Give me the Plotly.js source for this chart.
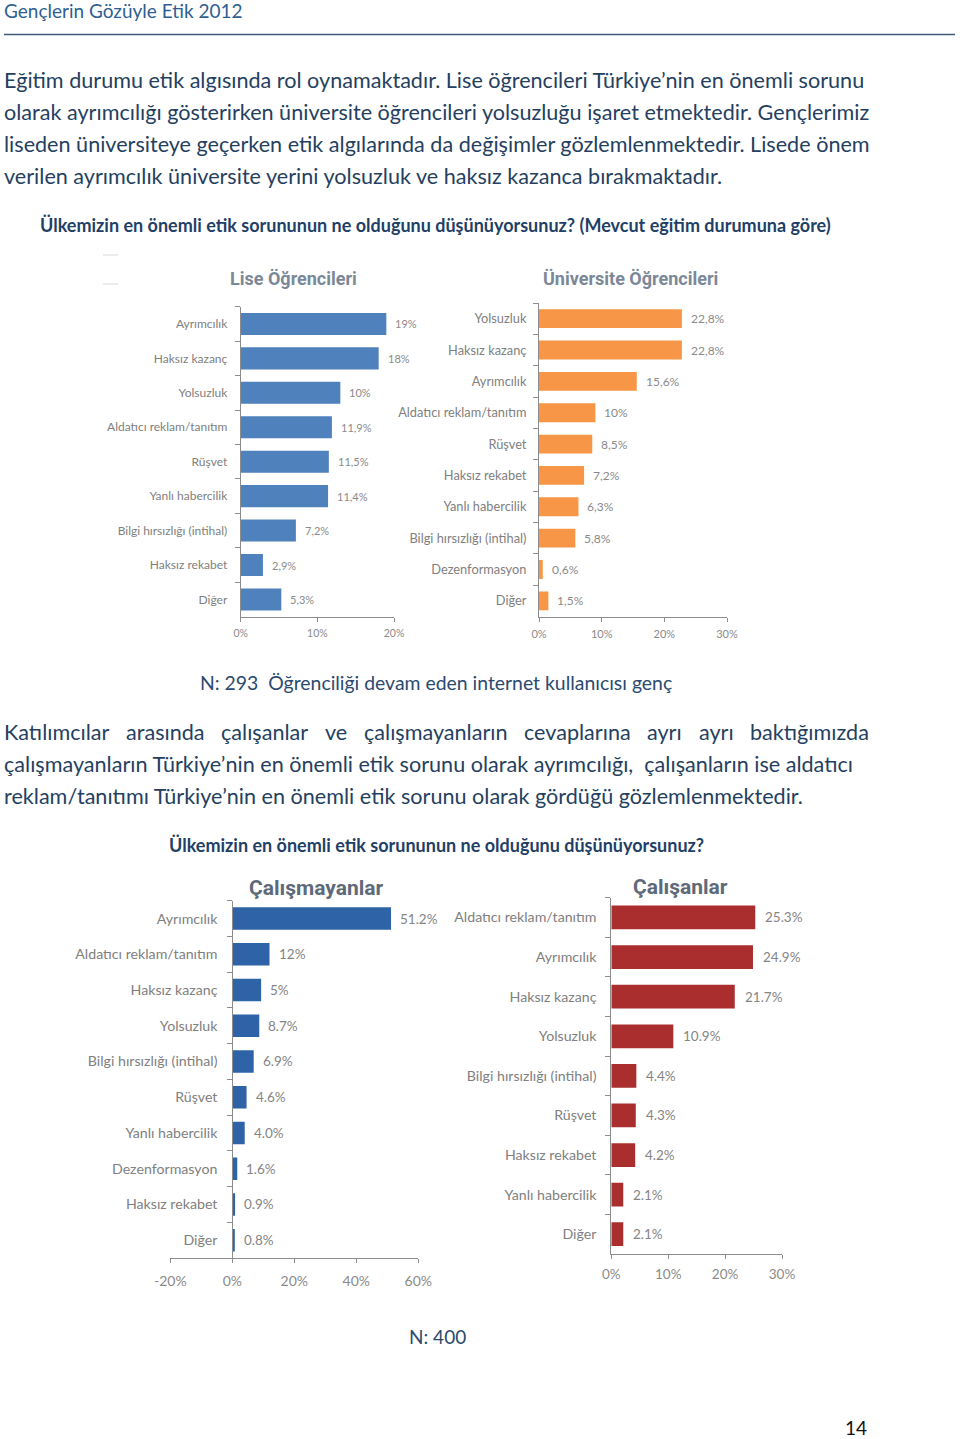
<!DOCTYPE html>
<html><head><meta charset="utf-8">
<script src="https://cdn.plot.ly/plotly-3.0.1.min.js"></script>
<style>html,body{margin:0;padding:0;background:#fff;} #chart{width:960px;height:1439px;}</style>
</head><body><div id="chart"></div>
<script>
// ---------------- DATA ----------------
const liseCategories = ["Ayrımcılık","Haksız kazanç","Yolsuzluk","Aldatıcı reklam/tanıtım","Rüşvet","Yanlı habercilik","Bilgi hırsızlığı (intihal)","Haksız rekabet","Diğer"];
const liseValues = [19, 18, 13, 11.9, 11.5, 11.4, 7.2, 2.9, 5.3];
const liseLabels = ["19%","18%","10%","11,9%","11,5%","11,4%","7,2%","2,9%","5,3%"];

const uniCategories = ["Yolsuzluk","Haksız kazanç","Ayrımcılık","Aldatıcı reklam/tanıtım","Rüşvet","Haksız rekabet","Yanlı habercilik","Bilgi hırsızlığı (intihal)","Dezenformasyon","Diğer"];
const uniValues = [22.8, 22.8, 15.6, 9.0, 8.5, 7.2, 6.3, 5.8, 0.6, 1.5];
const uniLabels = ["22,8%","22,8%","15,6%","10%","8,5%","7,2%","6,3%","5,8%","0,6%","1,5%"];

const calismayanCategories = ["Ayrımcılık","Aldatıcı reklam/tanıtım","Haksız kazanç","Yolsuzluk","Bilgi hırsızlığı (intihal)","Rüşvet","Yanlı habercilik","Dezenformasyon","Haksız rekabet","Diğer"];
const calismayanValues = [51.2, 12, 9.3, 8.7, 6.9, 4.6, 4.0, 1.6, 0.9, 0.8];
const calismayanLabels = ["51.2%","12%","5%","8.7%","6.9%","4.6%","4.0%","1.6%","0.9%","0.8%"];

const calisanCategories = ["Aldatıcı reklam/tanıtım","Ayrımcılık","Haksız kazanç","Yolsuzluk","Bilgi hırsızlığı (intihal)","Rüşvet","Haksız rekabet","Yanlı habercilik","Diğer"];
const calisanValues = [25.3, 24.9, 21.7, 10.9, 4.4, 4.3, 4.2, 2.1, 2.1];
const calisanLabels = ["25.3%","24.9%","21.7%","10.9%","4.4%","4.3%","4.2%","2.1%","2.1%"];

const ticks1 = [0, 10, 20];            const tickText1 = ["0%","10%","20%"];
const ticks2 = [0, 10, 20, 30];        const tickText2 = ["0%","10%","20%","30%"];
const ticks3 = [-20, 0, 20, 40, 60];   const tickText3 = ["-20%","0%","20%","40%","60%"];
const ticks4 = [0, 10, 20, 30];        const tickText4 = ["0%","10%","20%","30%"];

const headerText = "Gençlerin Gözüyle Etik 2012";
const para1 = [
  "Eğitim durumu etik algısında rol oynamaktadır. Lise öğrencileri Türkiye’nin en önemli sorunu",
  "olarak ayrımcılığı gösterirken üniversite öğrencileri yolsuzluğu işaret etmektedir. Gençlerimiz",
  "liseden üniversiteye geçerken etik algılarında da değişimler gözlemlenmektedir. Lisede önem",
  "verilen ayrımcılık üniversite yerini yolsuzluk ve haksız kazanca bırakmaktadır."
];
const question1 = "Ülkemizin en önemli etik sorununun ne olduğunu düşünüyorsunuz? (Mevcut eğitim durumuna göre)";
const titleLise = "Lise Öğrencileri";
const titleUni = "Üniversite Öğrencileri";
const note1 = "N: 293&nbsp;&nbsp;Öğrenciliği devam eden internet kullanıcısı genç";
const para2Justified = "Katılımcılar arasında çalışanlar ve çalışmayanların cevaplarına ayrı ayrı baktığımızda";
const para2 = [
  "çalışmayanların Türkiye’nin en önemli etik sorunu olarak ayrımcılığı,&nbsp; çalışanların ise aldatıcı",
  "reklam/tanıtımı Türkiye’nin en önemli etik sorunu olarak gördüğü gözlemlenmektedir."
];
const question2 = "Ülkemizin en önemli etik sorununun ne olduğunu düşünüyorsunuz?";
const titleCalismayan = "Çalışmayanlar";
const titleCalisan = "Çalışanlar";
const note2 = "N: 400";
const pageNo = "14";

// ---------------- LAYOUT HELPERS ----------------
const W = 960, H = 1439;
const fx = p => p / W;
const fy = p => 1 - p / H;
const BODY = "Lato, 'Open Sans', sans-serif";
const TITLEF = "'Liberation Sans Narrow', 'Arial Narrow', Roboto, sans-serif";
const AX = '#8c8c8c';
const BODYSIZE = 21.6;

function xAxis(dom, rng, tv, tt, anchor, fs, standoff) {
  return {domain:[fx(dom[0]), fx(dom[1])], range:rng, anchor:anchor, tickmode:'array', tickvals:tv, ticktext:tt,
    showline:true, linecolor:AX, linewidth:1, ticks:'outside', ticklen:4, tickcolor:AX,
    showgrid:false, zeroline:false, tickfont:{family:BODY, size:fs, color:'#8a8a8a'}, ticklabelstandoff:standoff, fixedrange:true};
}
function yAxis(dom, anchor, fs, standoff, pos) {
  const a = {domain:[fy(dom[0]), fy(dom[1])], type:'category', autorange:'reversed', anchor:anchor,
    showline:true, linecolor:AX, linewidth:1, ticks:'outside', tickson:'boundaries', ticklen:5, tickcolor:AX,
    showgrid:false, zeroline:false, tickfont:{family:BODY, size:fs, color:'#808080'}, ticklabelstandoff:standoff, fixedrange:true};
  if (pos !== undefined) { a.anchor = 'free'; a.position = fx(pos); }
  return a;
}
function barTrace(cats, vals, color, xa, ya, w) {
  return {type:'bar', orientation:'h', x:vals, y:cats, xaxis:xa, yaxis:ya, width:w,
    marker:{color:color}, hoverinfo:'skip', showlegend:false};
}
function valueLabels(vals, labels, xr, yr, fs, color, shift) {
  return vals.map((v, i) => ({xref:xr, yref:yr, x:v, y:i, text:labels[i], showarrow:false,
    xanchor:'left', yanchor:'middle', xshift:shift, font:{family:BODY, size:fs, color:color}}));
}
function textAt(px, py, text, size, color, anchor, bold, family) {
  return {xref:'paper', yref:'paper', x:fx(px), y:fy(py), text: bold ? '<b>'+text+'</b>' : text,
    showarrow:false, xanchor:anchor||'left', yanchor:'middle', borderpad:0,
    font:{family:family||BODY, size:size, color:color}};
}

const traces = [
  barTrace(liseCategories, liseValues, '#4f81bd', 'x', 'y', 0.64),
  barTrace(uniCategories, uniValues, '#f79646', 'x2', 'y2', 0.6),
  barTrace(calismayanCategories, calismayanValues, '#2e63a8', 'x3', 'y3', 0.63),
  barTrace(calisanCategories, calisanValues, '#aa2e2e', 'x4', 'y4', 0.6)
];

const BODYC = '#253f5f';
let annotations = [];
annotations.push(textAt(3, 11, headerText, 19, '#2f5f91', 'left'));
para1.forEach((t, i) => annotations.push(textAt(3, 80 + 32*i, t, BODYSIZE, BODYC, 'left')));
annotations.push(textAt(39, 225, question1, 18, '#1f3f66', 'left', true));
annotations.push(textAt(293, 278, titleLise, 18, '#7b8898', 'center', true, TITLEF));
annotations.push(textAt(630, 278, titleUni, 18, '#7b8898', 'center', true, TITLEF));
annotations.push(textAt(199, 682, note1, 19.4, '#2b4a6e', 'left'));

// justified first line of paragraph 2 (spacing computed from measured word widths)
(function(){
  const words = para2Justified.split(' ');
  const ctx = document.createElement('canvas').getContext('2d');
  ctx.font = BODYSIZE + 'px Lato';
  const widths = words.map(w => ctx.measureText(w).width);
  const left = 3, right = 868;
  const total = widths.reduce((a, b) => a + b, 0);
  const gap = (right - left - total) / (words.length - 1);
  let x = left;
  words.forEach((w, i) => { annotations.push(textAt(x, 732, w, BODYSIZE, BODYC, 'left')); x += widths[i] + gap; });
})();
para2.forEach((t, i) => annotations.push(textAt(3, 764 + 32*i, t, BODYSIZE, BODYC, 'left')));
annotations.push(textAt(436, 845, question2, 18, '#1f3f66', 'center', true));
annotations.push(textAt(316, 888, titleCalismayan, 21, '#5d6a79', 'center', true, TITLEF));
annotations.push(textAt(680, 887, titleCalisan, 21, '#5d6a79', 'center', true, TITLEF));
annotations.push(textAt(408, 1336, note2, 19, '#2b4a6e', 'left'));
annotations.push(textAt(868, 1427, pageNo, 19, '#111111', 'right'));

annotations = annotations
  .concat(valueLabels(liseValues, liseLabels, 'x', 'y', 11, '#8a8a8a', 7))
  .concat(valueLabels(uniValues, uniLabels, 'x2', 'y2', 12, '#8a8a8a', 7))
  .concat(valueLabels(calismayanValues, calismayanLabels, 'x3', 'y3', 13.5, '#858585', 7))
  .concat(valueLabels(calisanValues, calisanLabels, 'x4', 'y4', 13.5, '#858585', 8));

const shapes = [
  {type:'line', xref:'paper', yref:'paper', x0:fx(4), x1:fx(955), y0:fy(34.5), y1:fy(34.5), line:{color:'#3d5a7c', width:1.5}},
  {type:'line', xref:'paper', yref:'paper', x0:fx(103), x1:fx(118), y0:fy(255), y1:fy(255), line:{color:'#d9d9d9', width:1}},
  {type:'line', xref:'paper', yref:'paper', x0:fx(103), x1:fx(118), y0:fy(284), y1:fy(284), line:{color:'#d9d9d9', width:1}}
];

const layout = {
  width: W, height: H, margin:{l:0, r:0, t:0, b:0}, paper_bgcolor:'#ffffff', plot_bgcolor:'rgba(0,0,0,0)',
  showlegend:false,
  xaxis:  xAxis([240.7, 394], [0, 20], ticks1, tickText1, 'y', 10.5, 3),
  yaxis:  yAxis([616.7, 306.7], 'x', 12, 10),
  xaxis2: xAxis([539, 727], [0, 30], ticks2, tickText2, 'y2', 11, 3),
  yaxis2: yAxis([616.5, 303], 'x2', 12.8, 9),
  xaxis3: xAxis([170.3, 418.3], [-20, 60], ticks3, tickText3, 'y3', 14, 6),
  yaxis3: yAxis([1258, 900.7], 'x3', 14.2, 12, 232.3),
  xaxis4: xAxis([611.3, 782], [0, 30], ticks4, tickText4, 'y4', 13.5, 4),
  yaxis4: yAxis([1254, 897.7], 'x4', 14.2, 11),
  annotations: annotations,
  shapes: shapes
};

Plotly.newPlot('chart', traces, layout, {displayModeBar:false, staticPlot:true});
</script>
</body></html>
